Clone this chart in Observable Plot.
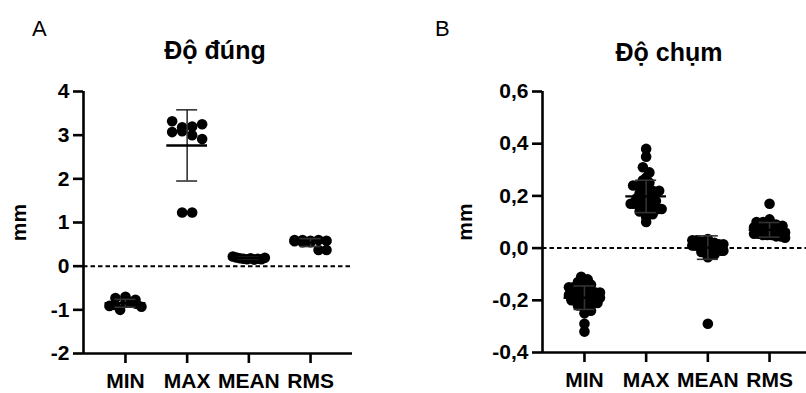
<!DOCTYPE html>
<html>
<head>
<meta charset="utf-8">
<script src="https://cdn.jsdelivr.net/npm/d3@7"></script>
<script src="https://cdn.jsdelivr.net/npm/@observablehq/plot@0.6"></script>
<style>
  html, body { margin: 0; padding: 0; background: #fff; }
  #wrap { position: relative; width: 806px; height: 393px; overflow: hidden; background: #fff;
          font-family: "Liberation Sans", Arial, sans-serif; color: #000; }
  .panel { position: absolute; top: 0; }
  .panel svg { max-width: none !important; display: block; }
  .panel svg text { font-size: 21px; font-weight: bold; }
  .lbl { position: absolute; line-height: 1; white-space: nowrap; }
  .title { font-weight: bold; font-size: 25px; transform: translateX(-50%); }
  .letter { font-size: 22px; }
</style>
</head>
<body>
<div id="wrap">
  <div class="lbl letter" style="left:32px; top:18px;">A</div>
  <div class="lbl letter" style="left:435px; top:18px;">B</div>
  <div class="lbl title" style="left:215px; top:38px;">Độ đúng</div>
  <div class="lbl title" style="left:669px; top:40px;">Độ chụm</div>
  <div id="pA" class="panel" style="left:0px; width:400px;"></div>
  <div id="pB" class="panel" style="left:400px; width:460px;"></div>
</div>
<script>
// ---------- data ----------
const categories = ["MIN", "MAX", "MEAN", "RMS"];

// Panel A: "Độ đúng" (mm)
const accMin  = [-0.91, -0.73, -0.70, -0.89, -1.00, -0.82, -0.82, -0.86, -0.93, -0.77];
const accMax  = [3.32, 3.07, 3.18, 3.20, 3.09, 3.25, 3.00, 2.91, 1.23, 1.23];
const accMean = [0.22, 0.20, 0.18, 0.17, 0.16, 0.18, 0.15, 0.17, 0.16, 0.19];
const accRms  = [0.60, 0.60, 0.58, 0.57, 0.55, 0.60, 0.58, 0.55, 0.37, 0.37];
const accMeans = [-0.85, 2.765, 0.18, 0.54];
const accSDs   = [0.09, 0.815, 0.02, 0.09];
const yTicksA = [-2, -1, 0, 1, 2, 3, 4];
const yTickLabelsA = ["-2", "-1", "0", "1", "2", "3", "4"];

// Panel B: "Độ chụm" (mm)
const precMin = [-0.11, -0.12, -0.13, -0.14, -0.14, -0.15, -0.15, -0.16, -0.16, -0.16, -0.17,
  -0.17, -0.17, -0.18, -0.18, -0.18, -0.18, -0.19, -0.19, -0.19, -0.19, -0.19, -0.20, -0.20,
  -0.20, -0.21, -0.21, -0.22, -0.23, -0.24, -0.25, -0.29, -0.32];
const precMax = [0.38, 0.35, 0.31, 0.29, 0.27, 0.26, 0.25, 0.24, 0.24, 0.23, 0.22, 0.22, 0.21,
  0.20, 0.20, 0.19, 0.19, 0.18, 0.18, 0.17, 0.17, 0.17, 0.16, 0.16, 0.16, 0.16, 0.15, 0.15,
  0.15, 0.14, 0.14, 0.13, 0.12, 0.10];
const precMean = [0.035, 0.03, 0.03, 0.025, 0.02, 0.02, 0.02, 0.015, 0.015, 0.01, 0.01, 0.01,
  0.01, 0.005, 0.005, 0.005, 0.0, 0.0, 0.0, 0.0, -0.005, -0.005, -0.01, -0.01, -0.015, -0.02,
  -0.025, -0.035, -0.29];
const precRms = [0.17, 0.11, 0.10, 0.10, 0.09, 0.09, 0.085, 0.08, 0.08, 0.075, 0.07, 0.07, 0.07,
  0.065, 0.065, 0.06, 0.06, 0.06, 0.06, 0.055, 0.055, 0.05, 0.05, 0.05, 0.045, 0.045, 0.04];
const precMeans = [-0.19, 0.198, 0.002, 0.07];
const precSDs   = [0.045, 0.062, 0.045, 0.028];
const yTicksB = [-0.4, -0.2, 0, 0.2, 0.4, 0.6];
const yTickLabelsB = ["-0,4", "-0,2", "0,0", "0,2", "0,4", "0,6"];

// ---------- layout ----------
const FONT = "'Liberation Sans', Arial, sans-serif";
const xDomain = [-0.68, 3.68];

// GraphPad-like scatter: points binned in rows, spread horizontally (overlapping if crowded)
function spread(values, pxPerUnit, rowPx, gap, maxSpread) {
  const rows = d3.group(values.map((v, i) => ({v, i})), o => Math.round(o.v * pxPerUnit / rowPx));
  const off = new Array(values.length).fill(0);
  for (const [, pts] of rows) {
    const k = pts.length;
    const s = k > 1 ? Math.min(gap, maxSpread / (k - 1)) : 0;
    pts.forEach((o, j) => { off[o.i] = (j - (k - 1) / 2) * s; });
  }
  return off;
}

function panel({groups, means, sds, yDomain, yTicks, yLabels, width, marginLeft, marginRight, marginTop, marginBottom, labelOffset, rowPx, gap, maxSpread}) {
  const height = 393;
  const innerW = width - marginLeft - marginRight;
  const innerH = height - marginTop - marginBottom;
  const step = innerW / (xDomain[1] - xDomain[0]);
  const pxPerUnit = innerH / (yDomain[1] - yDomain[0]);
  const points = groups.flatMap((vals, i) => {
    const off = spread(vals, pxPerUnit, rowPx, gap, maxSpread);
    return vals.map((v, j) => ({x: i + off[j] / step, value: v}));
  });
  const stats = categories.map((c, i) => ({i, mean: means[i], sd: sds[i]}));
  return Plot.plot({
    width, height, marginLeft, marginRight, marginTop, marginBottom,
    x: {domain: xDomain},
    y: {domain: yDomain},
    style: {fontFamily: FONT, fontWeight: "bold", fontSize: "21px", color: "#000", background: "transparent", overflow: "visible"},
    marks: [
      Plot.ruleY([0], {stroke: "#000", strokeWidth: 2, strokeDasharray: "4.5,3"}),
      Plot.dot(points, {x: "x", y: "value", r: 5.3, fill: "#000", stroke: "none"}),
      Plot.ruleX(stats, {x: "i", y1: d => d.mean - d.sd, y2: d => d.mean + d.sd, stroke: "#333", strokeWidth: 1.6}),
      Plot.ruleY(stats, {y: d => d.mean + d.sd, x1: d => d.i - 0.17, x2: d => d.i + 0.17, stroke: "#333", strokeWidth: 1.6}),
      Plot.ruleY(stats, {y: d => d.mean - d.sd, x1: d => d.i - 0.17, x2: d => d.i + 0.17, stroke: "#333", strokeWidth: 1.6}),
      Plot.ruleY(stats, {y: "mean", x1: d => d.i - 0.33, x2: d => d.i + 0.33, stroke: "#000", strokeWidth: 2.4}),
      Plot.ruleX([xDomain[0]], {stroke: "#000", strokeWidth: 2.6}),
      Plot.ruleY([yDomain[0]], {stroke: "#000", strokeWidth: 2.6}),
      Plot.axisY({ticks: yTicks, tickFormat: d => yLabels[yTicks.indexOf(d)], tickSize: 10, tickPadding: 4,
        strokeWidth: 2.6, label: "mm", labelAnchor: "center", labelArrow: "none", labelOffset}),
      Plot.axisX({ticks: [0, 1, 2, 3], tickFormat: i => categories[i], tickSize: 10, tickPadding: 10,
        strokeWidth: 2.6, label: null})
    ]
  });
}

document.getElementById("pA").append(panel({
  groups: [accMin, accMax, accMean, accRms], means: accMeans, sds: accSDs,
  yDomain: [-2, 4], yTicks: yTicksA, yLabels: yTickLabelsA,
  width: 400, marginLeft: 83, marginRight: 48, marginTop: 91, marginBottom: 40, labelOffset: 72,
  rowPx: 10, gap: 10, maxSpread: 32
}));
document.getElementById("pB").append(panel({
  groups: [precMin, precMax, precMean, precRms], means: precMeans, sds: precSDs,
  yDomain: [-0.4, 0.6], yTicks: yTicksB, yLabels: yTickLabelsB,
  width: 460, marginLeft: 142, marginRight: 49, marginTop: 91, marginBottom: 41, labelOffset: 85,
  rowPx: 6, gap: 6.5, maxSpread: 31
}));
</script>
</body>
</html>
